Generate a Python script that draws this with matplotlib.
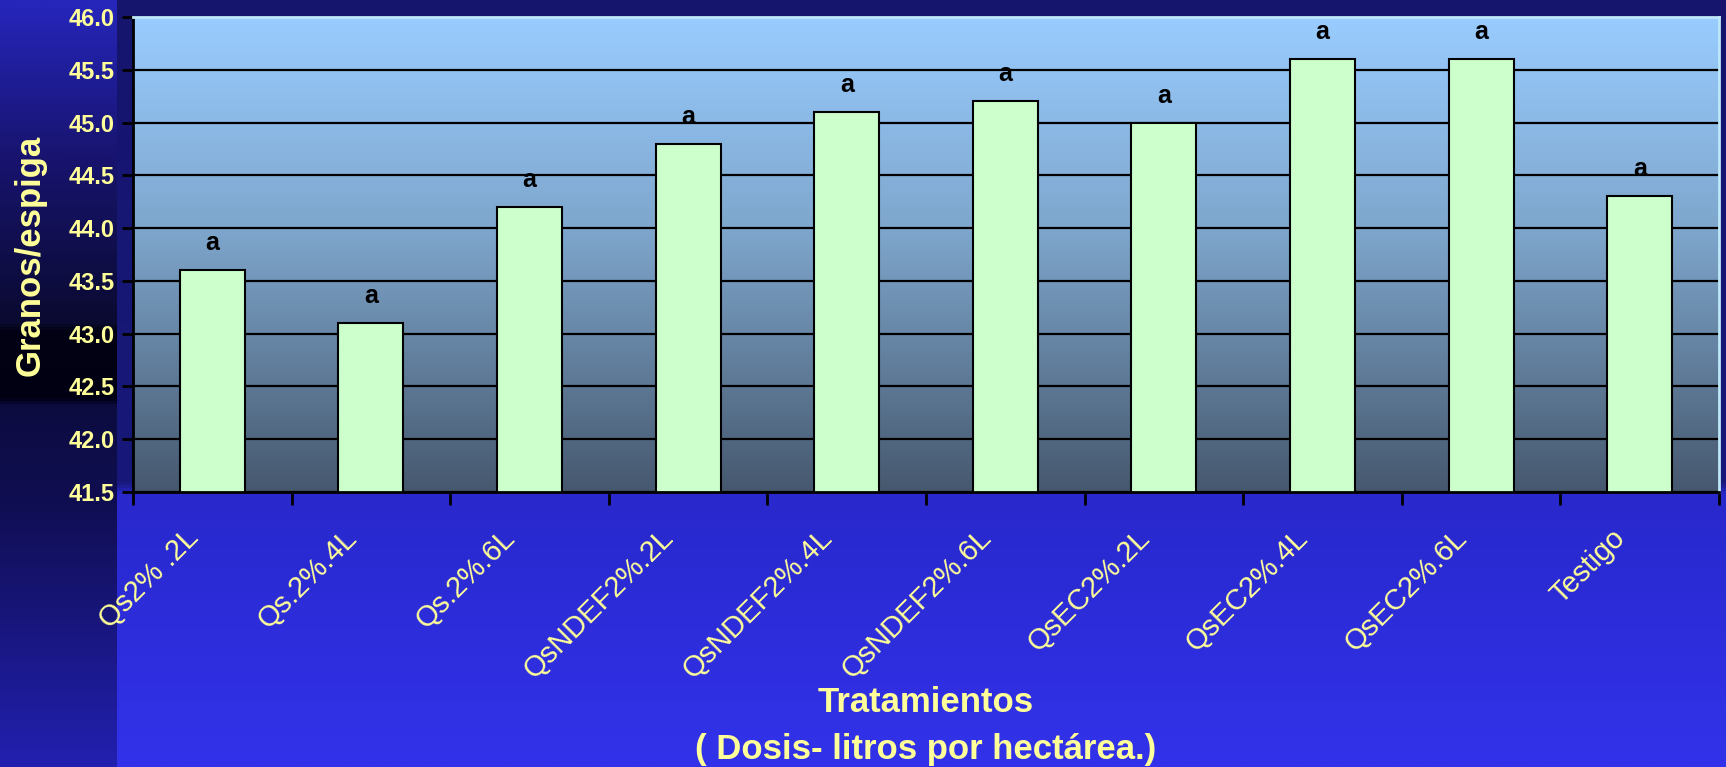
import numpy as np
import matplotlib.pyplot as plt
from matplotlib.colors import LinearSegmentedColormap
import matplotlib.transforms as mtransforms

tratamientos = ['Qs2% .2L', 'Qs.2%.4L', 'Qs.2%.6L', 'QsNDEF2%.2L', 'QsNDEF2%.4L',
                'QsNDEF2%.6L', 'QsEC2%.2L', 'QsEC2%.4L', 'QsEC2%.6L', 'Testigo']
granos = [43.6, 43.1, 44.2, 44.8, 45.1, 45.2, 45.0, 45.6, 45.6, 44.3]
letras = ['a'] * len(granos)
yticks = [41.5, 42.0, 42.5, 43.0, 43.5, 44.0, 44.5, 45.0, 45.5, 46.0]

amarillo = '#ffff99'
plt.rcParams['font.family'] = ['Liberation Sans', 'DejaVu Sans']

W, H = 1726, 767
fig = plt.figure(figsize=(W / 100, H / 100), dpi=100)


def gradiente(paradas, n):
    cmap = LinearSegmentedColormap.from_list('g', paradas)
    return cmap(np.linspace(0, 1, n))[:, :3]


# fondo de la diapositiva: franja oscura a la izquierda y azul al resto
franja = gradiente([(0.0, '#2626bc'), (0.2, '#181470'), (0.42, '#0a0a30'),
                    (0.43, '#020214'), (0.52, '#000012'), (0.53, '#0c0c40'),
                    (0.66, '#100e52'), (1.0, '#2220b0')], H)
resto = gradiente([(0.0, '#15156e'), (0.63, '#18187a'), (0.645, '#2828cc'),
                   (1.0, '#3232ea')], H)
fondo = np.zeros((H, W, 3))
fondo[:, :117, :] = franja[:, None, :]
fondo[:, 117:, :] = resto[:, None, :]
bg = fig.add_axes([0, 0, 1, 1], zorder=-10)
bg.imshow(fondo, aspect='auto', extent=[0, 1, 0, 1], origin='upper')
bg.axis('off')

x0, x1, y0, y1 = 133, 1719, 17, 492
ax = fig.add_axes([x0 / W, 1 - y1 / H, (x1 - x0) / W, (y1 - y0) / H])
ax.patch.set_visible(False)

# degradado del area de trazado
degr = gradiente([(0.0, '#99ccff'), (0.45, '#7ea6cc'), (1.0, '#46586e')], 256)
ax.imshow(degr[:, None, :], aspect='auto', extent=[0, 1, 0, 1],
          transform=ax.transAxes, zorder=-1, origin='upper')

x = np.arange(len(granos))
ax.bar(x, granos, width=0.41, color='#ccffcc', edgecolor='black', linewidth=1.5, zorder=2)

for i, (v, l) in enumerate(zip(granos, letras)):
    ax.annotate(l, (i, v), xytext=(0, 20), textcoords='offset pixels',
                ha='center', va='baseline', fontsize=18, fontweight='bold', color='black')

ax.set_xlim(-0.5, len(granos) - 0.5)
ax.set_ylim(41.5, 46.0)
ax.set_yticks(yticks)
ax.set_yticklabels(['%.1f' % t for t in yticks], color=amarillo, fontsize=17, fontweight='bold')
ax.yaxis.grid(True, color='black', linewidth=1.6)
ax.set_axisbelow(True)
ax.tick_params(axis='y', length=8, width=2, color='black', pad=5)

ax.set_xticks(x)
ax.set_xticklabels(tratamientos, rotation=45, ha='right', va='baseline',
                   rotation_mode='anchor', color=amarillo, fontsize=21)
ax.set_xticks(np.arange(-0.5, len(granos), 1), minor=True)
ax.tick_params(axis='x', which='major', length=0, pad=34)
ax.tick_params(axis='x', which='minor', length=9, width=2, color='black')
desplaza = mtransforms.ScaledTranslation(-13 / 100, 0, fig.dpi_scale_trans)
for t in ax.get_xticklabels():
    t.set_transform(t.get_transform() + desplaza)

for lado in ['left', 'bottom']:
    ax.spines[lado].set_color('black')
    ax.spines[lado].set_linewidth(2)
for lado in ['top', 'right']:
    ax.spines[lado].set_color('#bde8f8')
    ax.spines[lado].set_linewidth(2)

fig.text(30 / W, 1 - 255 / H, 'Granos/espiga', rotation=90, ha='center', va='center',
         color=amarillo, fontsize=25, fontweight='bold')
fig.text((x0 + x1) / 2 / W, 1 - 702 / H, 'Tratamientos', ha='center', va='center',
         color=amarillo, fontsize=25, fontweight='bold')
fig.text((x0 + x1) / 2 / W, 1 - 749 / H, '( Dosis- litros por hectárea.)', ha='center',
         va='center', color=amarillo, fontsize=25, fontweight='bold')

fig.savefig('out.png', dpi=100)
